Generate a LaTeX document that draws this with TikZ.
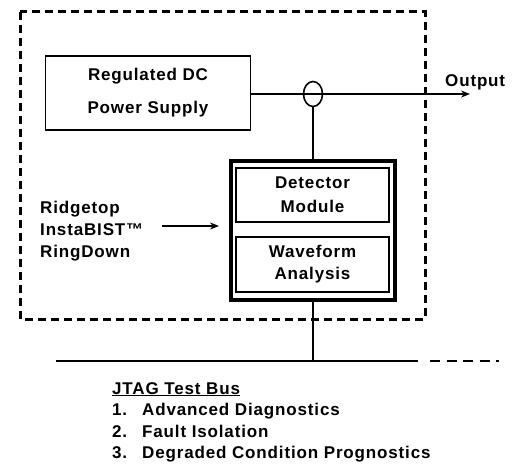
\documentclass[tikz,border=0pt]{standalone}
\usepackage{fontspec}
\setmainfont{Liberation Sans}[LetterSpace=5]
\usetikzlibrary{positioning,calc,shapes.geometric,arrows.meta}

\tikzset{
  blk/.style={draw,line width=1.6pt,align=center,inner sep=0pt},
  lbl/.style={anchor=base west,inner sep=0pt},
  wire/.style={line width=1.6pt}
}

\begin{document}
\begin{tikzpicture}[>={Stealth[length=9pt,width=7pt]},x=1pt,y=-1pt,
    font=\bfseries\fontsize{17}{24}\selectfont]
  \useasboundingbox (0,0) rectangle (525,468);
  % test box
  \draw[line width=3pt,dash pattern=on 8pt off 5pt] (20,12) rectangle (425,319);
  % supply
  \node[blk,minimum width=205pt,minimum height=74pt] (psu) at (148,93)
    {Regulated DC\\[9pt]Power Supply};
  \coordinate (out) at (470,94);
  \draw[wire,->] (psu.east |- out) -- (out);
  \node[lbl] (outlbl) at (445,87) {Output};
  \node[ellipse,draw,line width=1.6pt,minimum width=19pt,
    minimum height=25pt,inner sep=0pt] (tap) at (313,94) {};
  % monitor
  \node[draw,line width=4pt,minimum width=164pt,minimum height=139pt] (mon)
    at (313,230.5) {};
  \node[blk,minimum width=153pt,minimum height=54pt] (det) at (312.5,195)
    {Detector\\Module};
  \node[blk,minimum width=153pt,minimum height=55pt] (wave) at (312.5,264.5)
    {Waveform\\[-2pt]Analysis};
  \draw[wire] (tap.south) -- (mon.north);
  % input
  \node[lbl] (rt1) at (40,213) {Ridgetop};
  \node[lbl] (rt2) at (40,235) {InstaBIST\texttrademark};
  \node[lbl] (rt3) at (40,257) {RingDown};
  \coordinate (instart) at (162,226);
  \coordinate (inend) at (219,226);
  \draw[wire,->] (instart) -- (inend);
  % bus
  \coordinate (busL) at (56,361);
  \coordinate (busR) at (418,361);
  \draw[wire] (busL) -- (busR);
  \draw[line width=2.4pt,dash pattern=on 10pt off 6.5pt] (430,361) -- (499,361);
  \draw[wire] (mon.south) -- (mon.south |- busL);
  % list
  \node[lbl] (jtag) at (112,394) {\underline{JTAG Test Bus}};
  \foreach \n/\t [count=\i] in {1/Advanced Diagnostics,2/Fault Isolation,
      3/Degraded Condition Prognostics} {
    \node[lbl] (num\i) at (112,394+21.5*\i) {\n.};
    \node[lbl] (item\i) at (142,394+21.5*\i) {\t};
  }
\end{tikzpicture}
\end{document}
